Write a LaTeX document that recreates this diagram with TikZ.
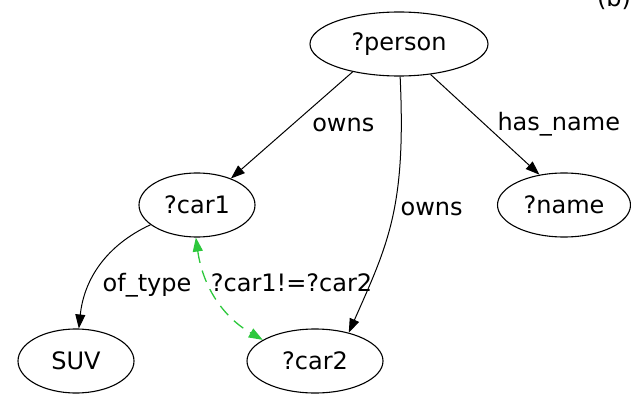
\documentclass[tikz,border=0pt]{standalone}
\usepackage{fontspec}
\setmainfont{DejaVu Sans}
\usetikzlibrary{shapes.geometric,arrows.meta}
\definecolor{neqgreen}{RGB}{45,200,60}
\tikzset{
  var/.style={ellipse,draw,line width=1.1pt,minimum height=64pt,inner sep=0pt,font=\fontsize{24}{28}\selectfont},
  rel/.style={line width=1pt,-{Triangle[length=14pt,width=10pt]}},
  neq/.style={neqgreen,line width=1.3pt,dash pattern=on 12pt off 8pt,
    {Triangle[length=14pt,width=10pt]}-{Triangle[length=14pt,width=10pt]}},
  lbl/.style={font=\fontsize{24}{28}\selectfont,text=black,inner sep=2pt}
}
\begin{document}
\begin{tikzpicture}[x=1pt,y=-1pt]
  \useasboundingbox (0,0) rectangle (631,398);

  \node[var,minimum width=178pt] (person) at (399,44) {?person};
  \node[var,minimum width=116pt] (car1) at (197,205) {?car1};
  \node[var,minimum width=133pt] (name) at (564,205) {?name};
  \node[var,minimum width=116pt] (suv) at (76,361) {SUV};
  \node[var,minimum width=136pt] (car2) at (315,361) {?car2};
  \node[font=\fontsize{24}{28}\selectfont,anchor=base] (tag) at (614,7) {(b)};

  \draw[rel] (person.211) -- node[lbl,pos=.5,anchor=west,xshift=18pt] {owns} (car1.38);
  \draw[rel] (person.316) -- node[lbl,pos=.5,anchor=west,xshift=10pt] {has\_name} (name.129);
  \draw[rel] (person.272) .. controls +(6,130) and +(40,-90) .. node[lbl,pos=.45,anchor=west,xshift=4pt] {owns} (car2.40);
  \draw[rel] (car1.203) to[out=205,in=84] node[lbl,pos=.64,anchor=west,xshift=9pt,yshift=-4pt] {of\_type} (suv.85);
  \draw[neq] (car1.268) to[out=-82,in=150] node[lbl,pos=.36,anchor=west] {?car1!=?car2} (car2.158);
\end{tikzpicture}
\end{document}
